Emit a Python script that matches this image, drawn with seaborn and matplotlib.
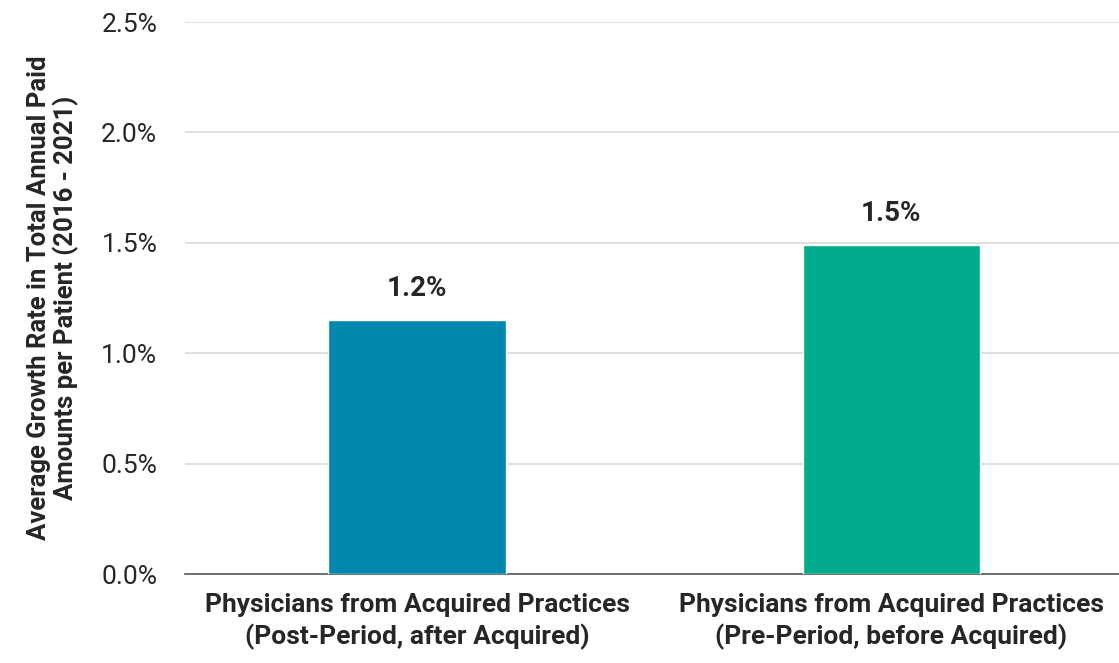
import matplotlib
matplotlib.use("Agg")
import matplotlib.pyplot as plt
import seaborn as sns
import pandas as pd

# chart data
categories = ["Physicians from Acquired Practices\n(Post-Period, after Acquired)",
              "Physicians from Acquired Practices\n(Pre-Period, before Acquired)"]
growth = [1.15, 1.49]
labels = ["1.2%", "1.5%"]
colors = ["#0087AE", "#00AA8C"]

sns.set_style("white")
plt.rcParams["font.family"] = ["Roboto", "DejaVu Sans"]

df = pd.DataFrame({"group": categories, "growth": growth})

fig = plt.figure(figsize=(11.19, 6.63), dpi=100)
ax = fig.add_axes([185 / 1119, 1 - 574 / 663, 1 - 185 / 1119, (574 - 22) / 663])

sns.barplot(data=df, x="group", y="growth", hue="group", palette=colors,
            width=0.375, legend=False, ax=ax, zorder=3, saturation=1)

for i, (v, t) in enumerate(zip(growth, labels)):
    ax.text(i, v + 0.08, t, ha="center", va="bottom", fontsize=20, fontweight="bold")

ax.set_ylim(0, 2.5)
ax.set_xlim(-0.49, 1.48)
ax.set_yticks([0, 0.5, 1.0, 1.5, 2.0, 2.5])
ax.set_yticklabels([f"{v:.1f}%" for v in [0, 0.5, 1.0, 1.5, 2.0, 2.5]], fontsize=19)
ax.grid(axis="y", color="#D9D9D9", linewidth=1.2, zorder=0)
ax.tick_params(axis="y", length=0, pad=20)
ax.tick_params(axis="x", length=0, pad=14, labelsize=19)
for lbl in ax.get_xticklabels():
    lbl.set_fontweight("bold")
    lbl.set_linespacing(1.3)

for s in ["top", "right", "left"]:
    ax.spines[s].set_visible(False)
ax.spines["bottom"].set_color("#595959")
ax.spines["bottom"].set_linewidth(1.2)

ax.set_xlabel("")
ax.set_ylabel("Average Growth Rate in Total Annual Paid\nAmounts per Patient (2016 - 2021)",
              fontsize=18.5, fontweight="bold", labelpad=16, linespacing=1.1)

fig.savefig("out.png", dpi=100)
